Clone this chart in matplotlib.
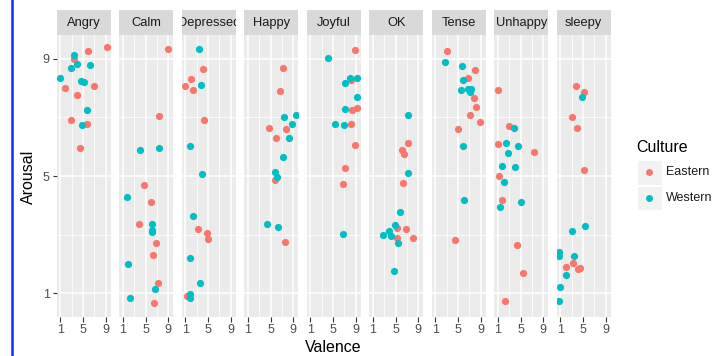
import numpy as np
import matplotlib.pyplot as plt
from matplotlib.patches import Rectangle
from matplotlib.lines import Line2D

plt.rcParams['font.family'] = ['Liberation Sans', 'DejaVu Sans']

# (valence, arousal) pairs per emotion and culture
angry_east = [(9.3, 9.39), (5.94, 9.28), (3.41, 9.01), (1.82, 8.02), (7.0, 8.08),
              (4.0, 7.76), (2.88, 6.92), (5.76, 6.79), (4.41, 5.96)]
angry_west = [(3.47, 9.14), (3.88, 8.81), (2.94, 8.68), (6.29, 8.80), (0.94, 8.34),
              (4.65, 8.24), (5.12, 8.21), (5.76, 7.25), (4.88, 6.75)]
calm_east = [(8.88, 9.35), (7.41, 7.05), (4.65, 4.68), (5.88, 4.10), (3.76, 3.37),
             (6.88, 2.71), (6.29, 2.30), (7.24, 1.34), (6.41, 0.66)]
calm_west = [(3.94, 5.89), (7.29, 5.95), (1.71, 4.28), (6.18, 3.37), (6.12, 3.16),
             (6.12, 3.08), (1.88, 2.00), (6.65, 1.15), (2.24, 0.83)]
depressed_east = [(4.06, 8.66), (1.94, 8.32), (0.88, 8.06), (2.35, 7.94), (4.29, 6.91),
                  (3.24, 3.20), (4.88, 3.05), (5.0, 2.86), (1.24, 0.91)]
depressed_west = [(3.41, 9.34), (3.76, 8.12), (1.76, 6.02), (4.0, 5.06), (2.35, 3.63),
                  (1.88, 2.21), (3.65, 1.36), (1.76, 0.97), (1.88, 0.85)]
happy_east = [(7.12, 8.68), (6.71, 7.90), (4.71, 6.63), (7.71, 6.60), (5.94, 6.30),
              (5.82, 4.88), (7.47, 2.74)]
happy_west = [(7.29, 7.01), (9.41, 7.07), (8.82, 6.76), (8.24, 6.29), (7.12, 5.64),
              (5.76, 5.14), (6.06, 4.98), (4.41, 3.37), (6.29, 3.27)]
joyful_east = [(8.94, 9.31), (8.24, 8.27), (8.29, 7.26), (9.18, 7.32), (8.12, 6.76),
               (8.94, 6.05), (7.18, 5.27), (6.82, 4.72)]
joyful_west = [(4.18, 9.02), (8.0, 8.35), (7.18, 8.18), (9.24, 8.36), (9.18, 7.70),
               (7.12, 7.29), (5.35, 6.76), (6.94, 6.74), (6.71, 3.02)]
ok_east = [(7.18, 6.14), (6.18, 5.89), (6.41, 5.75), (6.35, 4.77), (5.29, 3.21),
           (6.88, 3.20), (5.18, 2.90), (8.06, 2.89)]
ok_west = [(7.18, 7.09), (7.24, 5.10), (5.76, 3.76), (4.82, 3.33), (3.76, 3.13),
           (2.76, 3.0), (4.12, 2.94), (5.35, 2.71), (4.65, 1.76)]
tense_east = [(3.06, 9.27), (7.94, 8.62), (6.82, 8.34), (7.76, 7.65), (8.12, 7.34),
              (7.12, 7.07), (8.82, 6.83), (5.06, 6.61), (4.53, 2.81)]
tense_west = [(2.76, 8.89), (5.76, 8.77), (5.94, 8.27), (5.53, 7.92), (6.82, 7.96),
              (7.29, 7.96), (7.06, 7.86), (5.82, 6.04), (6.0, 4.19)]
unhappy_east = [(0.94, 7.93), (2.94, 6.72), (1.06, 6.10), (7.29, 5.81), (1.12, 5.0),
                (1.71, 4.18), (4.35, 2.63), (5.41, 1.70), (2.24, 0.72)]
unhappy_west = [(3.88, 6.64), (2.35, 6.13), (4.47, 6.01), (2.71, 5.80), (1.71, 5.33),
                (3.94, 5.31), (2.06, 4.81), (5.06, 4.11), (1.41, 3.93)]
sleepy_east = [(3.82, 8.08), (5.18, 7.86), (3.06, 7.03), (3.88, 6.65), (5.18, 5.20),
               (3.29, 2.04), (2.06, 1.89), (4.12, 1.84), (4.53, 1.87)]
sleepy_west = [(4.88, 7.70), (5.29, 3.31), (3.12, 3.13), (0.82, 2.40), (0.82, 2.28),
               (3.35, 2.28), (1.94, 1.62), (0.94, 1.21), (0.76, 0.75)]

emotions = ['Angry', 'Calm', 'Depressed', 'Happy', 'Joyful', 'OK', 'Tense', 'Unhappy', 'sleepy']
eastern = [angry_east, calm_east, depressed_east, happy_east, joyful_east,
           ok_east, tense_east, unhappy_east, sleepy_east]
western = [angry_west, calm_west, depressed_west, happy_west, joyful_west,
           ok_west, tense_west, unhappy_west, sleepy_west]
cultures = ['Eastern', 'Western']
colors = ['#F8766D', '#00BFC4']
ticks = [1, 5, 9]

W, H = 724, 356
fig = plt.figure(figsize=(W / 100, H / 100), dpi=100)

def box(x0, y0, x1, y1):
    # pixel box -> figure fraction [left, bottom, width, height]
    return [x0 / W, 1 - y1 / H, (x1 - x0) / W, (y1 - y0) / H]

strip_top, panel_top, panel_bot = 9.5, 34.8, 316.7
for i, name in enumerate(emotions):
    x0 = 56.7 + i * 62.5
    x1 = x0 + 54
    ax = fig.add_axes(box(x0, panel_top, x1, panel_bot))
    ax.set_facecolor('#EBEBEB')
    for s in ax.spines.values():
        s.set_visible(False)
    ax.set_xlim(0.35, 9.88)
    ax.set_ylim(0.2, 9.82)
    ax.set_xticks(ticks)
    ax.set_yticks(ticks)
    ax.set_xticks([3, 7], minor=True)
    ax.set_yticks([3, 7], minor=True)
    ax.grid(True, which='major', color='white', linewidth=1.1)
    ax.grid(True, which='minor', color='white', linewidth=0.55)
    ax.set_axisbelow(True)
    ax.tick_params(which='minor', length=0)
    ax.tick_params(which='major', length=3, width=0.8, color='#333333',
                   labelsize=9, labelcolor='#4D4D4D', pad=2)
    ax.tick_params(axis='x', which='major', length=3.5)
    if i > 0:
        ax.tick_params(axis='y', which='major', left=False, labelleft=False)
    for pts, c in zip([eastern[i], western[i]], colors):
        arr = np.array(pts)
        ax.scatter(arr[:, 0], arr[:, 1], s=27, color=c, linewidths=0, zorder=3)
    sa = fig.add_axes(box(x0, strip_top, x1, panel_top))
    sa.set_facecolor('#D9D9D9')
    sa.set_xticks([])
    sa.set_yticks([])
    for s in sa.spines.values():
        s.set_visible(False)
    sa.text(0.5, 0.48, name, ha='center', va='center', fontsize=9.3,
            color='#1A1A1A', transform=sa.transAxes, clip_on=True)

fig.text(28 / W, 1 - 177 / H, 'Arousal', rotation=90, ha='center', va='center',
         fontsize=11.5, color='black')
fig.text(333 / W, 1 - 348 / H, 'Valence', ha='center', va='center',
         fontsize=11.5, color='black')

# legend
fig.text(636 / W, 1 - 148 / H, 'Culture', ha='left', va='center', fontsize=11.5)
for k, (lab, c) in enumerate(zip(cultures, colors)):
    ky0 = 160 + k * 25.5
    fig.patches.append(Rectangle((636.7 / W, 1 - (ky0 + 24.5) / H), 25 / W, 24.5 / H,
                                 transform=fig.transFigure, facecolor='#F2F2F2',
                                 edgecolor='white', linewidth=0.8))
    fig.lines.append(Line2D([649 / W], [1 - (ky0 + 12.3) / H], marker='o',
                            markersize=5, color=c, markeredgewidth=0,
                            transform=fig.transFigure))
    fig.text(666 / W, 1 - (ky0 + 12.3) / H, lab, ha='left', va='center',
             fontsize=9, color='#1A1A1A')

# blue edge of the screenshot
fig.lines.append(Line2D([12 / W, 12 / W], [0, 1], color='#1030FF', linewidth=1.8,
                        transform=fig.transFigure))

fig.savefig('out.png', dpi=100)
